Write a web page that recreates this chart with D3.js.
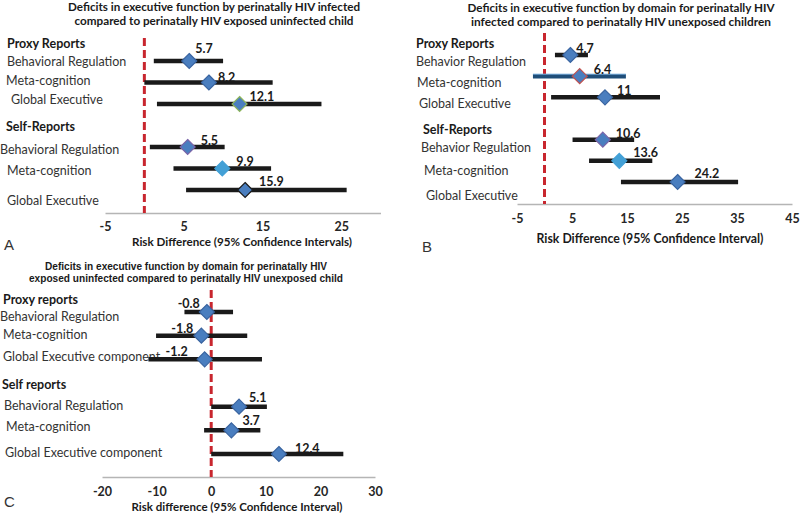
<!DOCTYPE html>
<html><head><meta charset="utf-8">
<script src="https://cdn.jsdelivr.net/npm/d3@7"></script>
<style>
html,body{margin:0;padding:0;background:#fff;}
svg{display:block;}
text{font-family:Lato,"Open Sans",sans-serif;fill:#262626;}
</style></head>
<body>
<svg id="c" width="800" height="513"></svg>
<script>
// ---------- DATA ----------
const rowSlots = [0, 1, 2, 4, 5, 6];

// Panel A
const titleA = ["Deficits in executive function by perinatally HIV infected",
                "compared to perinatally HIV exposed uninfected child"];
const groupsA = ["Proxy Reports", "Self-Reports"];
const catsA = ["Behavioral Regulation", "Meta-cognition", "Global Executive",
               "Behavioral Regulation", "Meta-cognition", "Global Executive"];
const estA = [5.7, 8.2, 12.1, 5.5, 9.9, 12.8];
const lowA = [1.2, 0.0, 1.6, 0.7, 3.7, 5.3];
const highA = [10.0, 16.3, 22.5, 10.2, 16.1, 25.7];
const labelsA = ["5.7", "8.2", "12.1", "5.5", "9.9", "15.9"];
const ticksA = [-5, 5, 15, 25];
const axisTitleA = "Risk Difference (95% Confidence Intervals)";

// Panel B
const titleB = ["Deficits in executive function by domain for perinatally HIV",
                "infected compared to perinatally HIV unexposed children"];
const groupsB = ["Proxy Reports", "Self-Reports"];
const catsB = ["Behavior Regulation", "Meta-cognition", "Global Executive",
               "Behavior Regulation", "Meta-cognition", "Global Executive"];
const estB = [4.7, 6.4, 11, 10.6, 13.6, 24.2];
const lowB = [1.9, -2.1, 1.2, 5.1, 8.1, 13.9];
const highB = [7.9, 14.8, 21.0, 16.3, 19.6, 35.2];
const labelsB = ["4.7", "6.4", "11", "10.6", "13.6", "24.2"];
const ticksB = [-5, 5, 15, 25, 35, 45];
const axisTitleB = "Risk Difference (95% Confidence Interval)";

// Panel C
const titleC = ["Deficits in executive function by domain for perinatally HIV",
                "exposed uninfected compared to perinatally HIV unexposed child"];
const groupsC = ["Proxy reports", "Self reports"];
const catsC = ["Behavioral Regulation", "Meta-cognition", "Global Executive component",
               "Behavioral Regulation", "Meta-cognition", "Global Executive component"];
const estC = [-0.8, -1.8, -1.2, 5.1, 3.7, 12.4];
const lowC = [-4.9, -10.1, -11.5, 0, -1.3, 0];
const highC = [4.0, 6.6, 9.3, 10.2, 9.0, 24.2];
const labelsC = ["-0.8", "-1.8", "-1.2", "5.1", "3.7", "12.4"];
const ticksC = [-20, -10, 0, 10, 20, 30];
const axisTitleC = "Risk difference (95% Confidence Interval)";

// ---------- STYLES / LAYOUT ----------
const BLUE = "#4A7EBF", BLUE_E = "#3A64A0", LIGHT = "#43A0D6";
const panels = [
 { letter:"A", letterPos:[4,250],
   title:titleA, titleX:214, titleY:[11,25], titleW:[292,279], titleFont:"bold 11.5px Lato",
   groups:groupsA, groupPos:[[7,48],[6,131]],
   cats:catsA, catPos:[[7,66],[6,85],[11,104],[0,154],[7,175],[7,205]],
   est:estA, low:lowA, high:highA, labels:labelsA,
   lblOff:[[6,-8],[9,-1],[10,-3],[13,-2],[14,-3],[14,-4]], lblAnchor:"start",
   domain:[-5,30], range:[105,380.5], rowY:[61,190], axisY:213, refTop:38, tickPad:9.5,
   ticks:ticksA, tickFont:12.5, axisTitle:axisTitleA, axisTitlePos:[242,246], axisTitleSize:12, axisTitleW:220,
   fills:[BLUE,BLUE,BLUE,BLUE,LIGHT,BLUE], strokes:[BLUE_E,BLUE_E,"#8DB55A","#7A64A8",LIGHT,"#1b1b1b"],
   lineCol:["#1a1a1a","#1a1a1a","#1a1a1a","#1a1a1a","#1a1a1a","#1a1a1a"] },
 { letter:"B", letterPos:[422,252],
   title:titleB, titleX:621, titleY:[12,26], titleW:[307,300], titleFont:"bold 11.5px Lato",
   groups:groupsB, groupPos:[[416,48],[423,134]],
   cats:catsB, catPos:[[416,66],[417,87],[419,108],[421,152],[424,175],[426,200]],
   est:estB, low:lowB, high:highB, labels:labelsB,
   lblOff:[[6,-2],[14,-2],[12,-2],[13,-2],[14,-4],[17,-4]], lblAnchor:"start",
   domain:[-5,45], range:[517,792], rowY:[55,182], axisY:204, refTop:33, tickPad:10,
   ticks:ticksB, tickFont:12.5, axisTitle:axisTitleB, axisTitlePos:[650,243], axisTitleSize:13.5, axisTitleW:227,
   fills:[BLUE,BLUE,BLUE,BLUE,LIGHT,BLUE], strokes:[BLUE_E,"#C0504D",BLUE_E,"#7A64A8",LIGHT,BLUE_E],
   lineCol:["#1a1a1a","#1F4E79","#1a1a1a","#1a1a1a","#1a1a1a","#1a1a1a"] },
 { letter:"C", letterPos:[4,507],
   title:titleC, titleX:186, titleY:[270,282], titleW:[282,314], titleFont:"bold 10px 'Liberation Sans'",
   groups:groupsC, groupPos:[[3,304],[2,389]],
   cats:catsC, catPos:[[0,321],[3,339],[3,361],[4,410],[6,431],[5,457]],
   est:estC, low:lowC, high:highC, labels:labelsC,
   lblOff:[[-7,-4],[-8,-3],[-17,-3],[10,-5],[11,-5],[16,-1]], lblAnchor:null,
   domain:[-20,30], range:[102,375], rowY:[312,454], axisY:477, refTop:290, tickPad:10,
   ticks:ticksC, tickFont:12.5, axisTitle:axisTitleC, axisTitlePos:[237,511], axisTitleSize:12, axisTitleW:211,
   fills:[BLUE,BLUE,BLUE,BLUE,BLUE,BLUE], strokes:[BLUE_E,BLUE_E,BLUE_E,BLUE_E,BLUE_E,BLUE_E],
   lineCol:["#1a1a1a","#1a1a1a","#1a1a1a","#1a1a1a","#1a1a1a","#1a1a1a"] }
];

const svg = d3.select("#c");

panels.forEach(p => {
  const g = svg.append("g");
  const x = d3.scaleLinear().domain(p.domain).range(p.range);
  const y = d3.scaleLinear().domain([0, 6]).range(p.rowY);

  // title
  p.title.forEach((t, i) => {
    g.append("text").attr("x", p.titleX).attr("y", p.titleY[i])
      .attr("text-anchor", "middle").style("font", p.titleFont).style("fill", "#1a1a1a")
      .attr("textLength", p.titleW[i]).attr("lengthAdjust", "spacingAndGlyphs").text(t);
  });

  // group headers
  p.groups.forEach((t, i) => {
    g.append("text").attr("x", p.groupPos[i][0]).attr("y", p.groupPos[i][1])
      .style("font-weight", "bold").style("font-size", "12.5px").style("fill", "#1a1a1a").text(t);
  });

  // category labels
  p.cats.forEach((t, i) => {
    g.append("text").attr("x", p.catPos[i][0]).attr("y", p.catPos[i][1])
      .style("font-size", "12.5px").style("fill", "#333").text(t);
  });

  // axis
  const axis = d3.axisBottom(x).tickValues(p.ticks).tickSize(0).tickPadding(p.tickPad)
    .tickFormat(d => String(d));
  const ag = g.append("g").attr("transform", `translate(0,${p.axisY})`).call(axis);
  ag.select(".domain").attr("stroke", "#B5B5B5").attr("stroke-width", 1.5);
  ag.selectAll(".tick text").style("font-family", "Lato, sans-serif").style("font-weight", "bold")
    .style("font-size", p.tickFont + "px").style("fill", "#262626");

  g.append("text").attr("x", p.axisTitlePos[0]).attr("y", p.axisTitlePos[1])
    .attr("text-anchor", "middle").style("font-weight", "bold").style("font-size", p.axisTitleSize + "px")
    .style("fill", "#1a1a1a").attr("textLength", p.axisTitleW).attr("lengthAdjust", "spacingAndGlyphs")
    .text(p.axisTitle);

  // reference line at 0
  g.append("line").attr("x1", x(0)).attr("x2", x(0)).attr("y1", p.refTop).attr("y2", p.axisY)
    .attr("stroke", "#C8262E").attr("stroke-width", 3).attr("stroke-dasharray", "8,4");

  // CI lines
  const rows = p.est.map((e, i) => ({ i, e, lo: p.low[i], hi: p.high[i], lab: p.labels[i], slot: rowSlots[i] }));
  g.selectAll(".ci").data(rows).join("line")
    .attr("x1", d => x(d.lo)).attr("x2", d => x(d.hi))
    .attr("y1", d => y(d.slot)).attr("y2", d => y(d.slot))
    .attr("stroke", d => p.lineCol[d.i]).attr("stroke-width", 4.5);
  rows.filter(d => p.lineCol[d.i] !== "#1a1a1a").forEach(d => {
    g.append("line").attr("x1", x(d.lo)).attr("x2", x(d.hi))
      .attr("y1", y(d.slot) - 2).attr("y2", y(d.slot) - 2)
      .attr("stroke", "#7FB2E0").attr("stroke-width", 1);
  });

  // diamonds
  const s = 7.5;
  g.selectAll(".dm").data(rows).join("path")
    .attr("d", d => {
      const cx = x(d.e), cy = y(d.slot);
      return `M${cx},${cy - s}L${cx + s},${cy}L${cx},${cy + s}L${cx - s},${cy}Z`;
    })
    .attr("fill", d => p.fills[d.i]).attr("stroke", d => p.strokes[d.i]).attr("stroke-width", 1.2);

  // value labels
  g.selectAll(".vl").data(rows).join("text")
    .attr("x", d => x(d.e) + p.lblOff[d.i][0])
    .attr("y", d => y(d.slot) + p.lblOff[d.i][1])
    .attr("text-anchor", d => p.lblAnchor ? p.lblAnchor : (p.lblOff[d.i][0] < 0 ? "end" : "start"))
    .style("font-weight", "bold").style("font-size", "12.5px").style("fill", "#1a1a1a")
    .text(d => d.lab);

  // panel letter
  g.append("text").attr("x", p.letterPos[0]).attr("y", p.letterPos[1])
    .style("font-family", "'Liberation Sans', Arial, sans-serif").style("font-size", "15px")
    .style("fill", "#333").text(p.letter);
});
</script>
</body></html>
